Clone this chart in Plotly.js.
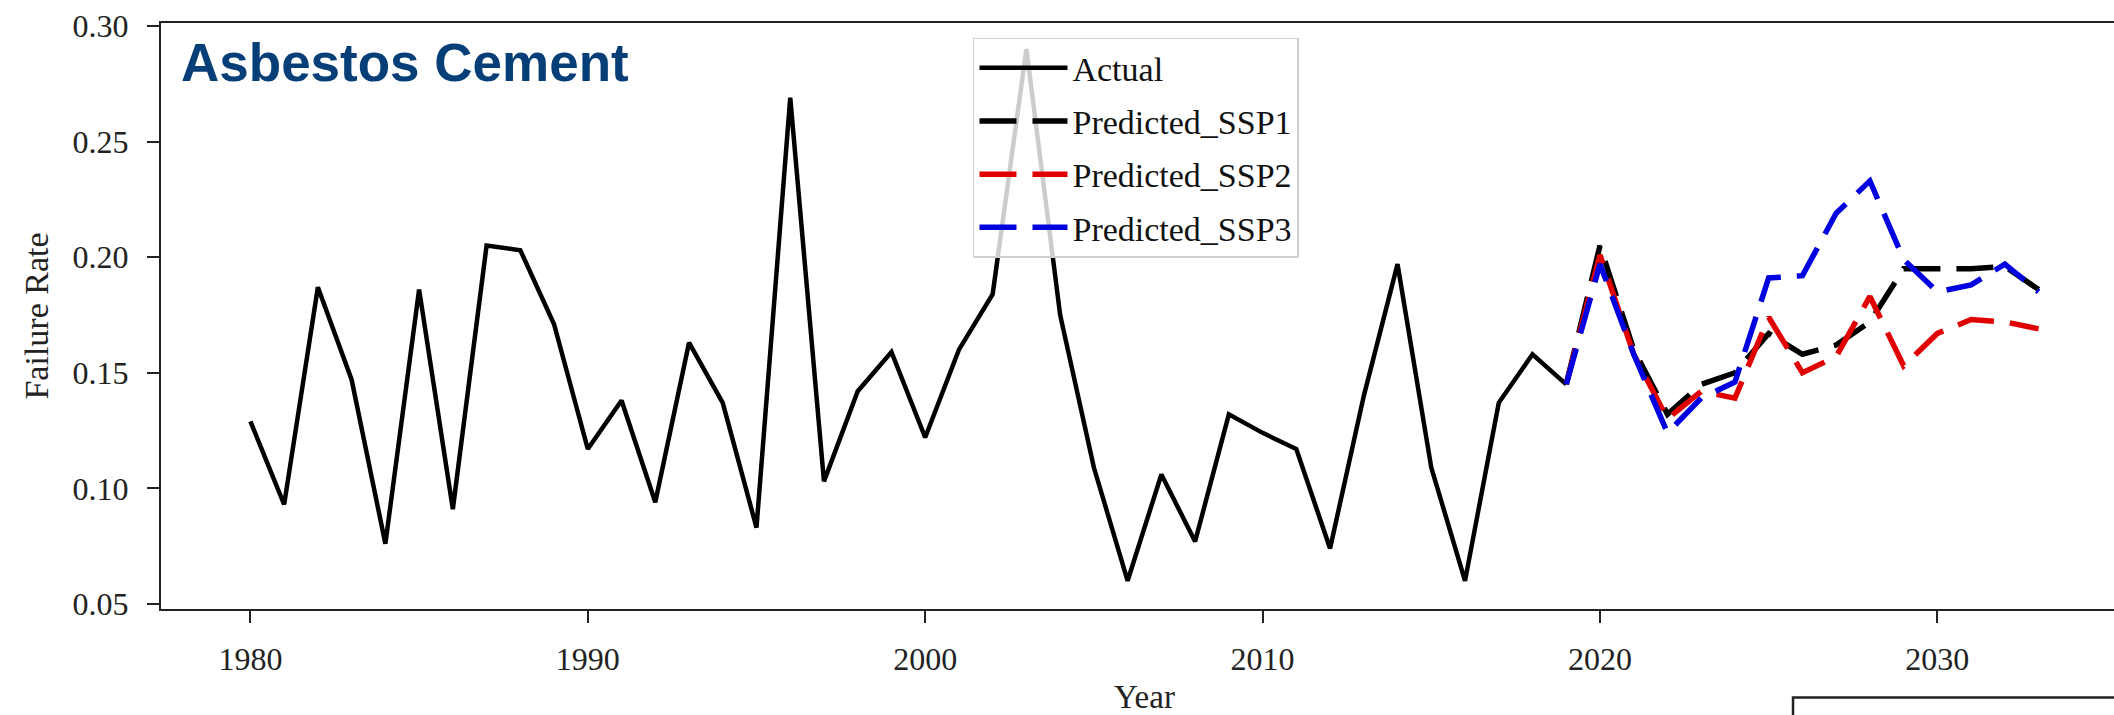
<!DOCTYPE html>
<html>
<head>
<meta charset="utf-8">
<script src="https://cdn.plot.ly/plotly-3.0.1.min.js"></script>
<style>
html, body { margin: 0; padding: 0; overflow: hidden; background: #fff; }
#chart { width: 2140px; height: 715px; }
</style>
</head>
<body>
<div id="chart"></div>
<script>
// ---- data ----
const yearsActual = [1980,1981,1982,1983,1984,1985,1986,1987,1988,1989,
                     1990,1991,1992,1993,1994,1995,1996,1997,1998,1999,
                     2000,2001,2002,2003,2004,2005,2006,2007,2008,2009,
                     2010,2011,2012,2013,2014,2015,2016,2017,2018,2019];
const actual = [0.129,0.093,0.187,0.147,0.076,0.186,0.091,0.205,0.203,0.171,
                0.117,0.138,0.094,0.163,0.137,0.083,0.269,0.103,0.142,0.159,
                0.122,0.160,0.184,0.290,0.175,0.109,0.060,0.106,0.077,0.132,
                0.124,0.117,0.074,0.140,0.197,0.109,0.060,0.137,0.158,0.145];
const yearsPred = [2019,2020,2021,2022,2023,2024,2025,2026,2027,2028,2029,2030,2031,2032,2033];
const ssp1 = [0.145,0.205,0.160,0.132,0.145,0.150,0.167,0.158,0.162,0.172,0.195,0.195,0.195,0.196,0.186];
const ssp2 = [0.145,0.201,0.158,0.130,0.142,0.139,0.174,0.150,0.157,0.183,0.153,0.167,0.173,0.172,0.169];
const ssp3 = [0.145,0.197,0.158,0.124,0.139,0.146,0.191,0.192,0.219,0.233,0.199,0.185,0.188,0.197,0.185];
const seriesNames = ['Actual','Predicted_SSP1','Predicted_SSP2','Predicted_SSP3'];
const xTicks = [1980,1990,2000,2010,2020,2030];
const yTicks = [0.05,0.10,0.15,0.20,0.25,0.30];
const chartLabel = 'Asbestos Cement';

// ---- styling ----
const serif = 'Liberation Serif, Times New Roman, serif';
const dashPat = '37px,16px';
const traces = [
  {x: yearsActual, y: actual, name: seriesNames[0], mode: 'lines', legendgroup: 'a',
   line: {color: '#000000', width: 4.5}},
  {x: yearsPred, y: ssp1, name: seriesNames[1], mode: 'lines', legendgroup: 'b',
   line: {color: '#000000', width: 5.5, dash: dashPat}},
  {x: yearsPred, y: ssp2, name: seriesNames[2], mode: 'lines', legendgroup: 'c',
   line: {color: '#e00000', width: 5.5, dash: dashPat}},
  {x: yearsPred, y: ssp3, name: seriesNames[3], mode: 'lines', legendgroup: 'd',
   line: {color: '#0000e0', width: 5.5, dash: dashPat}}
];

const axisCommon = {
  showline: true, mirror: true, linecolor: '#222', linewidth: 2,
  ticks: 'outside', ticklen: 12, tickwidth: 2, tickcolor: '#222',
  showgrid: false, zeroline: false,
  tickfont: {family: serif, size: 32, color: '#222'}
};

const layout = {
  width: 2140, height: 715,
  margin: {l: 161, r: 12, t: 23, b: 106},
  paper_bgcolor: '#ffffff', plot_bgcolor: '#ffffff',
  showlegend: true,
  xaxis: Object.assign({}, axisCommon, {
    range: [1977.35, 2035.65], tickvals: xTicks, ticktext: xTicks.map(String),
    ticklabelstandoff: 9,
    title: {text: 'Year', font: {family: serif, size: 33, color: '#222'}, standoff: 10}
  }),
  yaxis: Object.assign({}, axisCommon, {
    range: [0.0478, 0.3013], tickvals: yTicks, ticktext: yTicks.map(v => v.toFixed(2)),
    ticklabelstandoff: 12,
    title: {text: 'Failure Rate', font: {family: serif, size: 34, color: '#222'}, standoff: 14}
  }),
  legend: {
    x: 0.4128, y: 0.975, xanchor: 'left', yanchor: 'top',
    bgcolor: 'rgba(255,255,255,0.8)', bordercolor: '#d0d0d0', borderwidth: 1.5,
    font: {family: serif, size: 34, color: '#111'},
    traceorder: 'grouped', tracegroupgap: 6, itemwidth: 88
  },
  annotations: [{
    text: '<b>' + chartLabel + '</b>', xref: 'paper', yref: 'paper',
    x: 0.0092, y: 0.986, xanchor: 'left', yanchor: 'top', showarrow: false,
    font: {family: 'Liberation Sans, Arial, sans-serif', size: 53, color: '#063f78'}
  }],
  shapes: [{
    type: 'rect', xref: 'paper', yref: 'paper',
    x0: 0.8297, x1: 1.3, y0: -0.1512, y1: -0.5,
    line: {color: '#222', width: 2.5}, fillcolor: 'rgba(0,0,0,0)'
  }]
};

Plotly.newPlot('chart', traces, layout, {displayModeBar: false, staticPlot: true});
</script>
</body>
</html>
